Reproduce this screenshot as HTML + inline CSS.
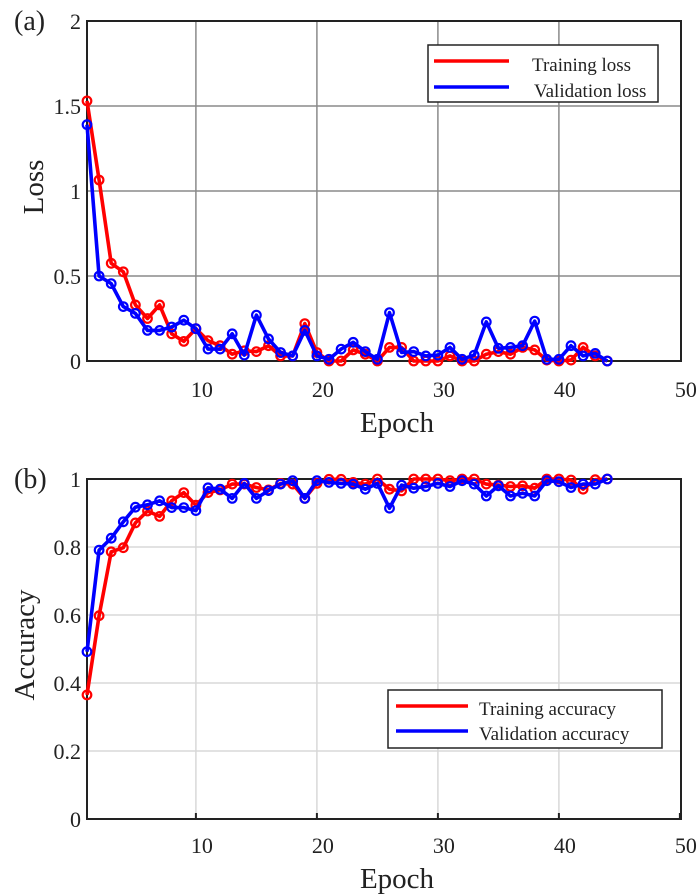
<!DOCTYPE html>
<html><head><meta charset="utf-8"><style>
html,body{margin:0;padding:0;background:#fff;}
svg{display:block;font-family:"Liberation Serif",serif;}
</style></head><body>
<svg id="s" width="700" height="896" viewBox="0 0 700 896" xmlns="http://www.w3.org/2000/svg"></svg>
<script>
var s=document.getElementById('s');var h='';
function X(e){return 87+12.1*(e-1);}
var L=87,R=681;
var T1=21,B1=361;function Y1(v){return B1-170*v;}
var T2=479,B2=819;function Y2(v){return B2-340*v;}
[10,20,30,40].forEach(function(e){
 h+='<line x1="'+X(e)+'" y1="'+T1+'" x2="'+X(e)+'" y2="'+B1+'" stroke="#8a8a8a" stroke-width="1.5"/>';
 h+='<line x1="'+X(e)+'" y1="'+T2+'" x2="'+X(e)+'" y2="'+B2+'" stroke="#d8d8d8" stroke-width="1.5"/>';
});
[0.5,1,1.5].forEach(function(v){h+='<line x1="'+L+'" y1="'+Y1(v)+'" x2="'+R+'" y2="'+Y1(v)+'" stroke="#8a8a8a" stroke-width="1.5"/>';});
[0.2,0.4,0.6,0.8].forEach(function(v){h+='<line x1="'+L+'" y1="'+Y2(v)+'" x2="'+R+'" y2="'+Y2(v)+'" stroke="#d8d8d8" stroke-width="1.5"/>';});
h+='<rect x="'+L+'" y="'+T1+'" width="'+(R-L)+'" height="'+(B1-T1)+'" fill="none" stroke="#222" stroke-width="2"/>';
h+='<rect x="'+L+'" y="'+T2+'" width="'+(R-L)+'" height="'+(B2-T2)+'" fill="none" stroke="#222" stroke-width="2"/>';
[10,20,30,40,50].forEach(function(e){
 h+='<line x1="'+X(e)+'" y1="'+B2+'" x2="'+X(e)+'" y2="'+(B2-6)+'" stroke="#222" stroke-width="2"/>';
 h+='<text x="'+(X(e)+6)+'" y="397" font-size="22" text-anchor="middle" fill="#222">'+e+'</text>';
 h+='<text x="'+(X(e)+6)+'" y="853" font-size="22" text-anchor="middle" fill="#222">'+e+'</text>';
});
[['0',0],['0.5',0.5],['1',1],['1.5',1.5],['2',2]].forEach(function(t){h+='<text x="81" y="'+(Y1(t[1])+8)+'" font-size="22" text-anchor="end" fill="#222">'+t[0]+'</text>';});
[['0',0],['0.2',0.2],['0.4',0.4],['0.6',0.6],['0.8',0.8],['1',1]].forEach(function(t){h+='<text x="81" y="'+(Y2(t[1])+8)+'" font-size="22" text-anchor="end" fill="#222">'+t[0]+'</text>';});
h+='<text x="14" y="30" font-size="28" fill="#222">(a)</text>';
h+='<text x="14" y="488" font-size="28" fill="#222">(b)</text>';
h+='<text x="397" y="432" font-size="29" text-anchor="middle" fill="#222">Epoch</text>';
h+='<text x="397" y="888" font-size="29" text-anchor="middle" fill="#222">Epoch</text>';
h+='<text transform="translate(43,187) rotate(-90)" font-size="29" text-anchor="middle" fill="#222">Loss</text>';
h+='<text transform="translate(34,645) rotate(-90)" font-size="29" text-anchor="middle" fill="#222">Accuracy</text>';
function series(d,Y,c){var p='';d.forEach(function(v,i){p+=(i?'L':'M')+X(i+1).toFixed(1)+' '+Y(v).toFixed(1);});
 h+='<path d="'+p+'" fill="none" stroke="'+c+'" stroke-width="3.6" stroke-linejoin="round"/>';
 d.forEach(function(v,i){h+='<circle cx="'+X(i+1).toFixed(1)+'" cy="'+Y(v).toFixed(1)+'" r="4.3" fill="none" stroke="'+c+'" stroke-width="2.2"/>';});}
var tl=[1.53,1.065,0.575,0.525,0.33,0.25,0.33,0.16,0.115,0.19,0.12,0.09,0.04,0.06,0.055,0.09,0.03,0.03,0.22,0.05,0,0,0.065,0.04,0,0.08,0.08,0,0,0,0.03,0,0,0.04,0.055,0.04,0.08,0.065,0.005,0,0.005,0.08,0.03,0];
var vl=[1.39,0.5,0.455,0.32,0.28,0.18,0.18,0.2,0.24,0.19,0.07,0.07,0.16,0.035,0.27,0.13,0.05,0.03,0.18,0.03,0.01,0.07,0.11,0.055,0.01,0.285,0.05,0.055,0.03,0.035,0.08,0.01,0.035,0.23,0.075,0.08,0.09,0.235,0.01,0.01,0.09,0.03,0.045,0];
var ta=[0.365,0.598,0.786,0.798,0.871,0.906,0.89,0.936,0.96,0.923,0.96,0.968,0.985,0.985,0.975,0.968,0.987,0.985,0.943,0.987,0.999,0.999,0.99,0.985,1,0.97,0.965,1,1,1,0.995,1,1,0.985,0.982,0.978,0.98,0.973,1,1,0.997,0.97,0.998,1];
var va=[0.492,0.791,0.826,0.874,0.917,0.924,0.936,0.916,0.916,0.907,0.974,0.97,0.943,0.987,0.943,0.966,0.985,0.995,0.943,0.995,0.99,0.987,0.985,0.97,0.987,0.914,0.982,0.973,0.978,0.987,0.978,0.995,0.985,0.95,0.98,0.95,0.958,0.95,0.995,0.992,0.975,0.985,0.985,1];
series(tl,Y1,'#f00');series(vl,Y1,'#00f');
series(ta,Y2,'#f00');series(va,Y2,'#00f');
h+='<rect x="428" y="45" width="230" height="57" fill="#fff" stroke="#222" stroke-width="1.5"/>';
h+='<line x1="434" y1="61" x2="509" y2="61" stroke="#f00" stroke-width="3.5"/><line x1="434" y1="87" x2="509" y2="87" stroke="#00f" stroke-width="3.5"/>';
h+='<text x="532" y="71" font-size="19" fill="#222">Training loss</text><text x="534" y="97" font-size="19" fill="#222">Validation loss</text>';
h+='<rect x="388" y="690" width="274" height="58" fill="#fff" stroke="#222" stroke-width="1.5"/>';
h+='<line x1="396" y1="706" x2="468" y2="706" stroke="#f00" stroke-width="3.5"/><line x1="396" y1="731" x2="468" y2="731" stroke="#00f" stroke-width="3.5"/>';
h+='<text x="479" y="715" font-size="19" fill="#222">Training accuracy</text><text x="479" y="740" font-size="19" fill="#222">Validation accuracy</text>';
s.innerHTML=h;
</script>
</body></html>
